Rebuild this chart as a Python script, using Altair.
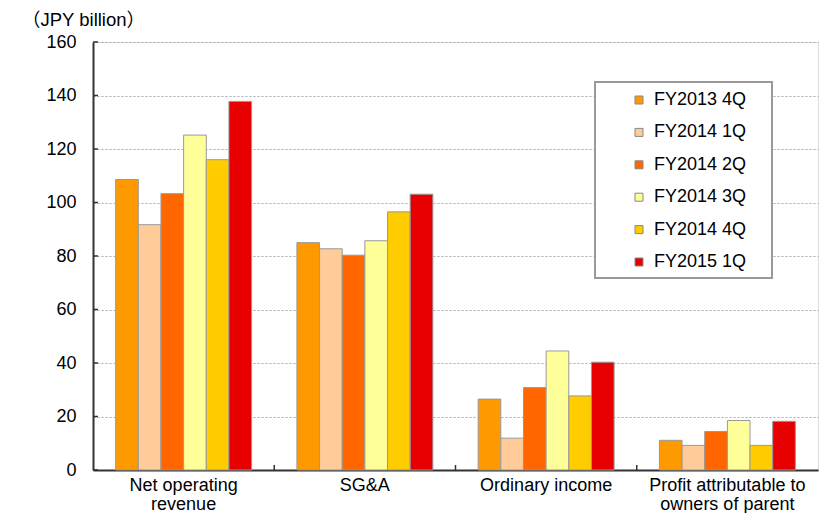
import altair as alt
import pandas as pd

categories = ["Net operating revenue", "SG&A", "Ordinary income", "Profit attributable to owners of parent"]
series = ["FY2013 4Q", "FY2014 1Q", "FY2014 2Q", "FY2014 3Q", "FY2014 4Q", "FY2015 1Q"]
colors = ["#FF9900", "#FFCC99", "#FF6600", "#FFFF99", "#FFCC00", "#E60000"]

values = {
    "FY2013 4Q": [108.6, 85.0, 26.5, 11.1],
    "FY2014 1Q": [91.7, 82.7, 11.9, 9.2],
    "FY2014 2Q": [103.3, 80.3, 30.8, 14.4],
    "FY2014 3Q": [125.2, 85.7, 44.5, 18.5],
    "FY2014 4Q": [116.0, 96.5, 27.7, 9.2],
    "FY2015 1Q": [137.8, 103.1, 40.3, 18.2],
}
y_ticks = [0, 20, 40, 60, 80, 100, 120, 140, 160]

W, H = 725, 428
FONT = "Liberation Sans"
FS = 18

rows = []
for s in series:
    for c, v in zip(categories, values[s]):
        rows.append({"category": c, "series": s, "value": v})
df = pd.DataFrame(rows)

label_expr = (
    "datum.label == 'Net operating revenue' ? ['Net operating', 'revenue'] : "
    "datum.label == 'Profit attributable to owners of parent' ? ['Profit attributable to', 'owners of parent'] : datum.label"
)

yscale = alt.Scale(domain=[0, 160], nice=False)

bars = alt.Chart(df).mark_bar(stroke="#999999", strokeWidth=1).encode(
    x=alt.X(
        "category:N",
        sort=categories,
        scale=alt.Scale(paddingInner=0.25, paddingOuter=0.125),
        axis=alt.Axis(
            title=None, labelAngle=0, labelFont=FONT, labelFontSize=FS, labelColor="#000",
            labelExpr=label_expr, labelLineHeight=19, labelPadding=6, labelBaseline="top",
            ticks=False, domainColor="#333", domainWidth=2, labelLimit=300,
        ),
    ),
    xOffset=alt.XOffset("series:N", sort=series, scale=alt.Scale(paddingInner=0, paddingOuter=0)),
    y=alt.Y(
        "value:Q",
        scale=yscale,
        axis=alt.Axis(
            title=None, values=y_ticks, labelFont=FONT, labelFontSize=FS, labelColor="#000",
            labelPadding=17, tickSize=0, domainColor="#333", domainWidth=2,
            grid=True, gridColor="#aaaaaa", gridDash=[2, 2], gridWidth=1,
        ),
    ),
    color=alt.Color(
        "series:N",
        sort=series,
        scale=alt.Scale(domain=series, range=colors),
        legend=alt.Legend(
            title=None, orient="none", legendX=537, legendY=49, padding=0,
            symbolType="square", symbolSize=64, symbolStrokeColor="#888888", symbolStrokeWidth=1,
            labelFont=FONT, labelFontSize=FS, labelColor="#000", labelOffset=6,
            rowPadding=14.4, symbolOpacity=1,
        ),
    ),
)

ytick_df = pd.DataFrame({"v": y_ticks})
yticks = alt.Chart(ytick_df).mark_rule(color="#333", strokeWidth=1.5).encode(
    y=alt.Y("v:Q", scale=yscale), x=alt.value(0), x2=alt.value(5)
)

xtick_layers = []
for i in range(1, len(categories)):
    px = W * i / len(categories)
    xtick_layers.append(
        alt.Chart(pd.DataFrame({"a": [0]})).mark_rule(color="#333", strokeWidth=1.5).encode(
            x=alt.value(px), y=alt.value(H - 5), y2=alt.value(H)
        )
    )

legend_box = alt.Chart(pd.DataFrame({"a": [0]})).mark_rect(
    fill="white", stroke="#999999", strokeWidth=2
).encode(x=alt.value(502), x2=alt.value(679), y=alt.value(40), y2=alt.value(236))

chart = alt.layer(bars, yticks, *xtick_layers, legend_box).properties(
    width=W,
    height=H,
    autosize=alt.AutoSizeParams(type="none"),
    padding={"left": 93, "top": 42, "right": 1, "bottom": 43},
    title=alt.TitleParams(
        "（JPY billion）", anchor="start", frame="group", dx=-71, offset=4,
        font=FONT + ", Noto Sans CJK JP", fontSize=18.5, fontWeight="normal", color="#000",
    ),
).configure_view(stroke="#999999", strokeWidth=2).configure(background="white")

chart.save("out.html", embed_options={"renderer": "svg", "actions": False})
